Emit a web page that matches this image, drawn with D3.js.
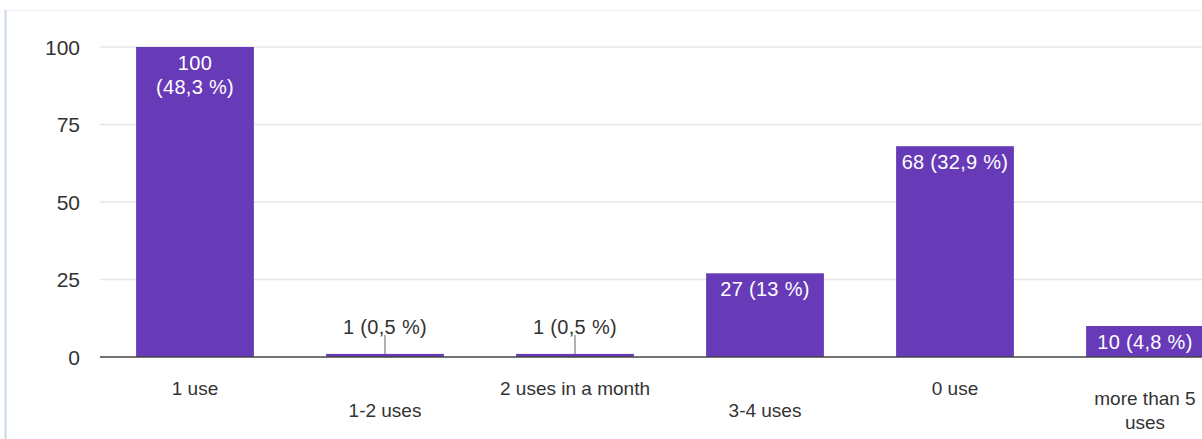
<!DOCTYPE html>
<html>
<head>
<meta charset="utf-8">
<script src="https://cdn.jsdelivr.net/npm/d3@7"></script>
<style>
  body { margin: 0; background: #fff; }
  text { font-family: "Liberation Sans", Arial, sans-serif; }
</style>
</head>
<body>
<script>
var categories = ["1 use", "1-2 uses", "2 uses in a month", "3-4 uses", "0 use", "more than 5 uses"];
var counts = [100, 1, 1, 27, 68, 10];
var percents = ["48,3", "0,5", "0,5", "13", "32,9", "4,8"];
var yTicks = [0, 25, 50, 75, 100];

var width = 1202, height = 439;
var svg = d3.select("body").append("svg")
    .attr("width", width)
    .attr("height", height);

// light frame of the screenshot
svg.append("rect")
    .attr("x", 5.5).attr("y", 10.5)
    .attr("width", width).attr("height", height)
    .attr("fill", "#fff")
    .attr("stroke", "#eef0f4");
svg.append("line")
    .attr("x1", 5.5).attr("x2", 5.5).attr("y1", 10).attr("y2", height)
    .attr("stroke", "#c9d8ee").attr("stroke-width", 2);

var x = d3.scaleBand()
    .domain(categories)
    .range([100, 1240])
    .paddingInner(0.38)
    .paddingOuter(0.19);

var y = d3.scaleLinear()
    .domain([0, 100])
    .range([357, 47]);

// gridlines
svg.selectAll(".grid")
    .data(yTicks.filter(function(d){ return d > 0; }))
    .enter()
    .append("line")
    .attr("x1", 100).attr("x2", width)
    .attr("y1", function(d){ return y(d); })
    .attr("y2", function(d){ return y(d); })
    .attr("stroke", "#e6e6e6")
    .attr("stroke-width", 1.5);

// y tick labels
svg.selectAll(".ytick")
    .data(yTicks)
    .enter()
    .append("text")
    .attr("x", 80)
    .attr("y", function(d){ return y(d); })
    .attr("dy", "0.36em")
    .attr("text-anchor", "end")
    .attr("font-size", 21)
    .attr("fill", "#333")
    .text(function(d){ return d; });

var data = categories.map(function(c, i){
    return {cat: c, v: counts[i], p: percents[i], i: i};
});

// bars
svg.selectAll(".bar")
    .data(data)
    .enter()
    .append("rect")
    .attr("x", function(d){ return x(d.cat); })
    .attr("y", function(d){ return y(d.v); })
    .attr("width", x.bandwidth())
    .attr("height", function(d){ return y(0) - y(d.v); })
    .attr("fill", "#673ab7");

// baseline
svg.append("line")
    .attr("x1", 100).attr("x2", width)
    .attr("y1", y(0)).attr("y2", y(0))
    .attr("stroke", "#444")
    .attr("stroke-width", 1.5);

// value labels
data.forEach(function(d){
    var cx = x(d.cat) + x.bandwidth() / 2;
    var lbl = d.v + " (" + d.p + " %)";
    if (d.v >= 90) {
        var t = svg.append("text")
            .attr("x", cx).attr("text-anchor", "middle")
            .attr("font-size", 20).attr("fill", "#fff")
            .attr("letter-spacing", 0.3);
        t.append("tspan").attr("x", cx).attr("y", y(d.v) + 23).text(d.v);
        t.append("tspan").attr("x", cx).attr("y", y(d.v) + 47).text("(" + d.p + " %)");
    } else if (d.v >= 5) {
        svg.append("text")
            .attr("x", cx).attr("y", y(d.v) + 23)
            .attr("text-anchor", "middle")
            .attr("font-size", 20).attr("fill", "#fff")
            .attr("letter-spacing", 0.3)
            .text(lbl);
    } else {
        svg.append("line")
            .attr("x1", cx).attr("x2", cx)
            .attr("y1", y(d.v) - 19).attr("y2", y(d.v))
            .attr("stroke", "#999").attr("stroke-width", 1.5);
        svg.append("text")
            .attr("x", cx).attr("y", y(d.v) - 20)
            .attr("text-anchor", "middle")
            .attr("font-size", 20).attr("fill", "#333")
            .attr("letter-spacing", 0.3)
            .text(lbl);
    }
});

// category labels, alternating rows
data.forEach(function(d){
    var cx = x(d.cat) + x.bandwidth() / 2;
    var t = svg.append("text")
        .attr("text-anchor", "middle")
        .attr("font-size", 19)
        .attr("fill", "#333");
    if (d.cat === "more than 5 uses") {
        t.append("tspan").attr("x", cx).attr("y", 405).text("more than 5");
        t.append("tspan").attr("x", cx).attr("y", 429).text("uses");
    } else {
        t.attr("x", cx).attr("y", d.i % 2 === 0 ? 395 : 417).text(d.cat);
    }
});
</script>
</body>
</html>
